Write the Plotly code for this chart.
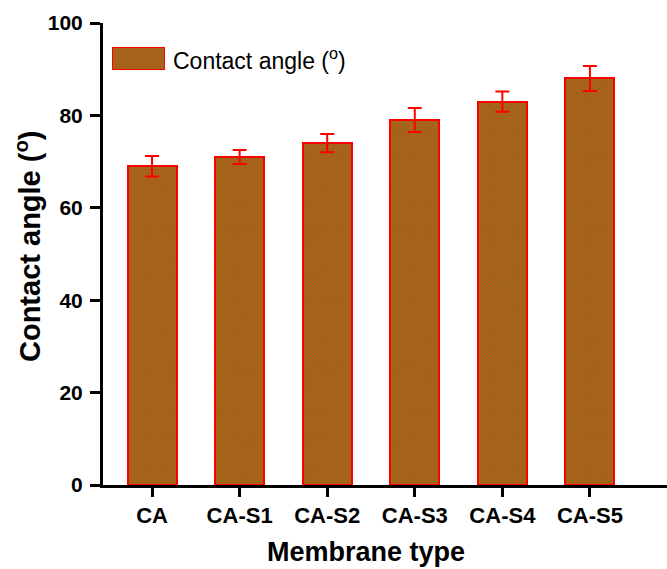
import plotly.graph_objects as go

# Membrane samples and measured water contact angles (degrees)
membranes = ["CA", "CA-S1", "CA-S2", "CA-S3", "CA-S4", "CA-S5"]
contact_angle = [69, 71, 74, 79, 83, 88]
angle_error = [2.2, 1.5, 2.0, 2.6, 2.2, 2.7]
y_ticks = [0, 20, 40, 60, 80, 100]

FONT = "Liberation Sans, Arial, sans-serif"
BAR_PATTERN = dict(shape="x", fgcolor="#6c9616", bgcolor="#b8521a", size=3, solidity=0.5)
BAR_COLOR = "#8c6a1a"

W, H = 667, 569
ML, MR, MT, MB = 103, 0, 23, 84
PW, PH = W - ML - MR, H - MT - MB


def px_to_paper_x(px):
    return (px - ML) / PW


def px_to_paper_y(py):
    return (H - MB - py) / PH


fig = go.Figure()

fig.add_trace(go.Bar(
    x=list(range(len(membranes))),
    y=contact_angle,
    width=0.56,
    marker=dict(color=BAR_COLOR, pattern=BAR_PATTERN,
                line=dict(color="#ff0000", width=2)),
    error_y=dict(type="data", array=angle_error, color="#ff0000",
                 thickness=2, width=7),
    showlegend=False,
))

# Legend swatch drawn as a bar on its own small axis pair
fig.add_trace(go.Bar(
    x=[0], y=[1], width=1, xaxis="x2", yaxis="y2",
    marker=dict(color=BAR_COLOR, pattern=BAR_PATTERN,
                line=dict(color="#ff0000", width=2)),
    showlegend=False, hoverinfo="skip",
))

fig.update_layout(
    width=W, height=H,
    margin=dict(l=ML, r=MR, t=MT, b=MB),
    paper_bgcolor="white", plot_bgcolor="white",
    font=dict(family=FONT, color="black"),
    bargap=0,
    xaxis=dict(
        range=[-0.56, 5.88],
        tickmode="array", tickvals=list(range(len(membranes))), ticktext=membranes,
        tickfont=dict(size=22, family=FONT, weight="bold"),
        ticks="outside", ticklen=9, tickwidth=3, tickcolor="black",
        showline=True, linewidth=3, linecolor="black",
        showgrid=False, zeroline=False,
    ),
    yaxis=dict(
        range=[0, 100],
        tickmode="array", tickvals=y_ticks,
        tickfont=dict(size=21, family=FONT, weight="bold"),
        ticks="outside", ticklen=10, tickwidth=3, tickcolor="black",
        ticklabelstandoff=3,
        showline=True, linewidth=3, linecolor="black",
        showgrid=False, zeroline=False,
    ),
    xaxis2=dict(domain=[px_to_paper_x(112), px_to_paper_x(165)], range=[-0.5, 0.5],
                anchor="y2", visible=False, fixedrange=True),
    yaxis2=dict(domain=[px_to_paper_y(70), px_to_paper_y(47)], range=[0, 1],
                anchor="x2", visible=False, fixedrange=True),
)

# Axis titles
fig.add_annotation(
    x=px_to_paper_x(366), y=px_to_paper_y(552), xref="paper", yref="paper",
    xanchor="center", yanchor="middle", showarrow=False,
    text="<b>Membrane type</b>", font=dict(size=27, family=FONT, color="black"),
)
fig.add_annotation(
    x=px_to_paper_x(28), y=px_to_paper_y(246), xref="paper", yref="paper",
    xanchor="center", yanchor="middle", showarrow=False, textangle=-90,
    text="<b>Contact angle (<sup>o</sup>)</b>", font=dict(size=29, family=FONT, color="black"),
)

# Legend label
fig.add_annotation(
    x=px_to_paper_x(171), y=px_to_paper_y(59), xref="paper", yref="paper",
    xanchor="left", yanchor="middle", showarrow=False,
    text="Contact angle (<sup>o</sup>)", font=dict(size=23, family=FONT, color="black"),
)

fig.write_html("out.html")
